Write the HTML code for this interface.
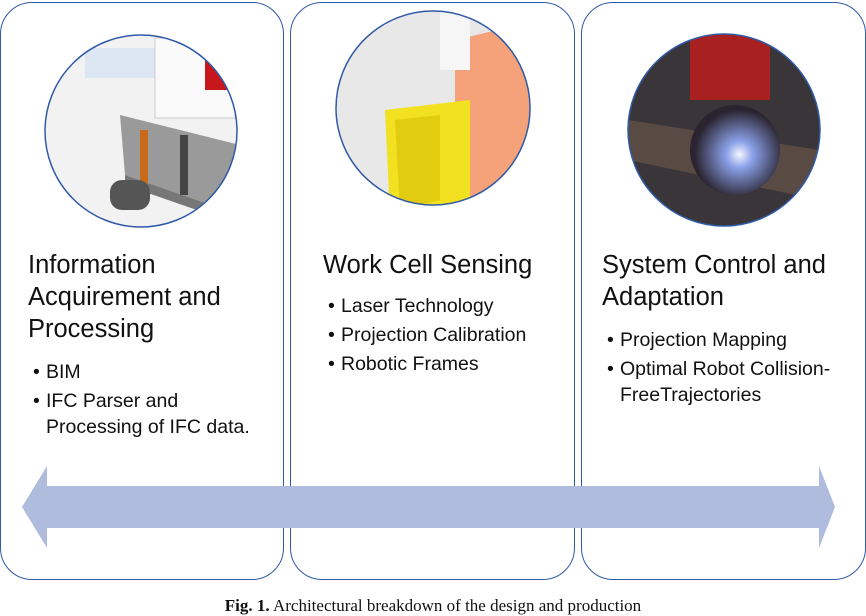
<!DOCTYPE html>
<html><head><meta charset="utf-8"><style>
body{margin:0;width:866px;height:614px;background:#fff;position:relative;overflow:hidden;font-family:"Liberation Sans",sans-serif;color:#111}
.p{position:absolute;border:1.5px solid #2f5aa8;border-radius:32px;box-sizing:border-box}
.t{position:absolute;font-size:25.5px;line-height:32px;white-space:nowrap}
.b{position:absolute;font-size:19.5px;line-height:26px;white-space:nowrap}
.b div{margin-bottom:3px;position:relative}
.b div:before{content:"•";position:absolute;left:-13px}
.cap{position:absolute;left:0;width:866px;top:596px;text-align:center;font-family:"Liberation Serif",serif;font-size:17px}
</style></head><body>
<div class="p" style="left:0;top:2px;width:284px;height:578px"></div>
<div class="p" style="left:290px;top:2px;width:285px;height:578px"></div>
<div class="p" style="left:581px;top:2px;width:285px;height:578px"></div>
<svg style="position:absolute;left:0;top:0" width="866" height="614">
<defs>
<clipPath id="c1"><circle cx="141" cy="131" r="96"/></clipPath>
<clipPath id="c2"><circle cx="433" cy="108" r="97"/></clipPath>
<clipPath id="c3"><circle cx="724" cy="130" r="96"/></clipPath>
<radialGradient id="sp" cx="0.55" cy="0.55" r="0.5"><stop offset="0" stop-color="#f4f6ff"/><stop offset="0.3" stop-color="#8aa0e8"/><stop offset="1" stop-color="#2a2430"/></radialGradient>
</defs>
<g clip-path="url(#c1)"><rect x="40" y="30" width="210" height="210" fill="#f2f2f2"/><rect x="85" y="48" width="70" height="30" fill="#dde6f3"/><rect x="155" y="38" width="80" height="80" fill="#fafafa" stroke="#ccc"/><rect x="205" y="60" width="35" height="30" fill="#c8161d"/>
<polygon points="120,115 240,145 240,215 125,175" fill="#9a9a9a"/><polygon points="125,175 240,215 240,225 125,185" fill="#777"/><rect x="140" y="130" width="8" height="55" fill="#c86a1c"/><rect x="180" y="135" width="8" height="60" fill="#444"/><rect x="110" y="180" width="40" height="30" rx="12" fill="#555"/></g>
<circle cx="141" cy="131" r="96" fill="none" stroke="#2f5aa8" stroke-width="1.5"/>
<g clip-path="url(#c2)"><rect x="330" y="5" width="210" height="210" fill="#e8e8e8"/><polygon points="455,40 540,20 540,210 455,215" fill="#f5a27a"/><polygon points="385,110 470,100 470,200 390,215" fill="#f2e120"/><polygon points="395,120 440,115 440,200 400,210" fill="#e2cc10"/><rect x="440" y="0" width="30" height="70" fill="#f6f6f6"/></g>
<circle cx="433" cy="108" r="97" fill="none" stroke="#2f5aa8" stroke-width="1.5"/>
<g clip-path="url(#c3)"><rect x="620" y="30" width="210" height="210" fill="#3a3538"/><rect x="690" y="30" width="80" height="70" fill="#a82020"/><polygon points="628,120 820,150 820,200 628,160" fill="#5a4a44"/><circle cx="735" cy="150" r="45" fill="url(#sp)"/></g>
<circle cx="724" cy="130" r="96" fill="none" stroke="#2f5aa8" stroke-width="1.5"/>
<polygon points="22,507 47,466 47,486 819,486 819,466 835,507 819,548 819,528 47,528 47,548" fill="#afbcde"/>
</svg>
<div class="t" style="left:28px;top:249px">Information<br>Acquirement and<br>Processing</div>
<div class="b" style="left:46px;top:359px"><div>BIM</div><div>IFC Parser and<br>Processing of IFC data.</div></div>
<div class="t" style="left:323px;top:249px">Work Cell Sensing</div>
<div class="b" style="left:341px;top:293px"><div>Laser Technology</div><div>Projection Calibration</div><div>Robotic Frames</div></div>
<div class="t" style="left:602px;top:249px">System Control and<br>Adaptation</div>
<div class="b" style="left:620px;top:327px"><div>Projection Mapping</div><div>Optimal Robot Collision-<br>FreeTrajectories</div></div>
<div class="cap"><b>Fig. 1.</b> Architectural breakdown of the design and production</div>
</body></html>
